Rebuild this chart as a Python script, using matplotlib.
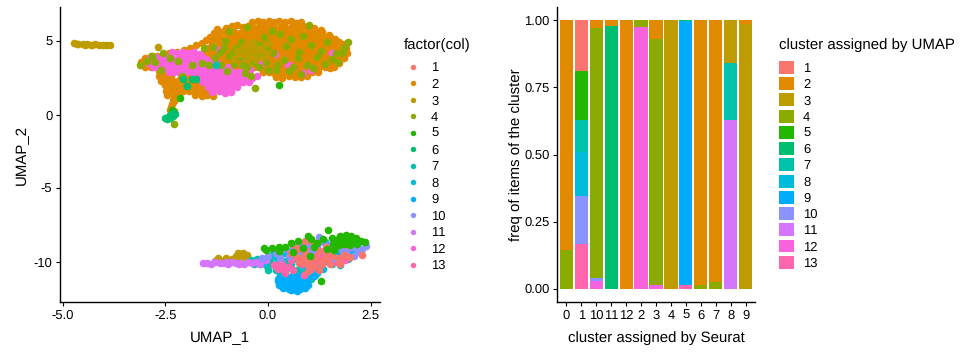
import matplotlib
matplotlib.use("Agg")
import matplotlib.pyplot as plt
from matplotlib.lines import Line2D
from matplotlib.patches import Patch
import numpy as np

plt.rcParams['font.family'] = ['Liberation Sans', 'DejaVu Sans']
plt.rcParams['axes.unicode_minus'] = False
plt.rcParams['text.hinting'] = 'no_hinting'
plt.rcParams['text.hinting_factor'] = 1

###########
# points, one list per cluster (x, y)

umap_2 = [
    (-.38,6.25),(-.25,6.32),(-.12,6.28),(.02,6.38),(.15,6.3),(.28,6.36),(.42,6.27),(.55,6.33),(.68,6.24),(.8,6.27),
    (-1.02,5.9),(-.88,5.98),(-.75,6.05),(-.62,5.92),(-.48,5.98),(-.35,5.9),(-.22,5.97),(-.08,5.92),(.05,5.98),
    (.18,5.9),(.32,5.96),(.45,5.91),(.58,5.97),(.72,5.9),(.85,6.0),(.98,5.94),(1.12,5.85),(1.28,5.72),
    (-1.22,5.58),(-1.08,5.65),(-.95,5.56),(-.82,5.63),(-.68,5.57),(-.55,5.62),(-.42,5.55),(-.28,5.61),(-.15,5.57),
    (-.02,5.63),(.12,5.56),(.25,5.62),(.38,5.57),(.52,5.63),(.65,5.56),(.78,5.62),(.92,5.57),(1.05,5.6),(1.18,5.55),
    (1.32,5.58),(1.48,5.42),
    (-1.3,5.22),(-1.16,5.28),(-1.02,5.2),(-.88,5.26),(-.75,5.21),(-.62,5.27),(-.48,5.22),(-.35,5.28),(-.22,5.2),
    (-.08,5.26),(.05,5.21),(.18,5.27),(.32,5.22),(.45,5.28),(.58,5.2),(.72,5.26),(.85,5.21),(.98,5.27),(1.12,5.22),
    (1.25,5.28),(1.38,5.2),(1.52,5.25),(1.64,5.12),
    (-1.36,4.88),(-1.22,4.94),(-1.08,4.86),(-.95,4.92),(-.82,4.87),(-.68,4.93),(-.55,4.88),(-.42,4.94),(-.28,4.86),
    (-.15,4.92),(-.02,4.87),(.12,4.93),(.25,4.88),(.38,4.94),(.52,4.86),(.65,4.92),(.78,4.87),(.92,4.93),(1.05,4.88),
    (1.18,4.94),(1.32,4.86),(1.45,4.92),(1.58,4.87),(1.72,4.93),(1.86,4.78),
    (-1.46,4.55),(-1.32,4.6),(-1.18,4.53),(-1.05,4.59),(-.92,4.54),(-.78,4.6),(-.65,4.55),(-.52,4.61),(-.38,4.53),
    (-.25,4.59),(-.12,4.54),(.02,4.6),(.15,4.55),(.28,4.61),(.42,4.53),(.55,4.59),(.68,4.54),(.82,4.6),(.95,4.55),
    (1.08,4.61),(1.22,4.53),(1.35,4.59),(1.48,4.54),(1.62,4.6),(1.75,4.55),(1.9,4.5),
    (-1.56,4.22),(-1.42,4.27),(-1.28,4.2),(-1.15,4.26),(-1.02,4.21),(-.88,4.27),(-.75,4.22),(-.62,4.28),(-.48,4.2),
    (-.35,4.26),(-.22,4.21),(-.08,4.27),(.05,4.22),(.18,4.28),(.32,4.2),(.45,4.26),(.58,4.21),(.72,4.27),(.85,4.22),
    (.98,4.28),(1.12,4.2),(1.25,4.26),(1.38,4.21),(1.52,4.27),(1.65,4.22),(1.78,4.28),(1.92,4.2),
    (-1.48,3.88),(-1.35,3.93),(-1.22,3.87),(-1.08,3.92),(-.95,3.88),(-.82,3.94),(-.68,3.87),(-.55,3.93),(-.42,3.88),
    (-.28,3.94),(-.15,3.86),(-.02,3.92),(.12,3.87),(.25,3.93),(.38,3.88),(.52,3.94),(.65,3.86),(.78,3.92),(.92,3.87),
    (1.05,3.93),(1.18,3.88),(1.32,3.94),(1.45,3.86),(1.58,3.92),(1.72,3.87),(1.85,3.85),
    (-1.18,3.55),(-1.05,3.6),(-.92,3.53),(-.78,3.59),(-.65,3.54),(-.52,3.6),(-.38,3.55),(-.25,3.61),(-.12,3.53),
    (.02,3.59),(.15,3.54),(.28,3.6),(.42,3.55),(.55,3.61),(.68,3.53),(.82,3.59),(.95,3.54),(1.08,3.6),(1.22,3.55),
    (1.35,3.61),(1.48,3.53),(1.62,3.55),(1.74,3.5),
    (-.9,3.2),(-.76,3.26),(-.62,3.19),(-.48,3.25),(-.35,3.2),(-.22,3.26),(-.08,3.19),(.05,3.25),(.18,3.2),(.32,3.26),
    (.45,3.19),(.58,3.25),(.72,3.2),(.85,3.26),(.98,3.19),(1.12,3.25),(1.25,3.2),(1.38,3.22),(1.5,3.17),(1.6,3.24),
    (-.12,2.88),(.02,2.92),(.15,2.85),(.28,2.9),(.42,2.86),(.55,2.92),(.68,2.85),(.82,2.9),(.95,2.88),(1.08,2.92),(1.22,2.88),
    (.2,2.58),(.35,2.52),(.5,2.6),(.65,2.53),(.8,2.58),(.95,2.62),
    # top strip and left edge, under the pink
    (-3.1,3.55),(-3.0,3.85),(-2.85,3.95),(-2.7,3.98),(-2.55,4.02),(-2.42,4.15),(-2.22,4.28),(-2.05,4.4),(-1.9,4.55),
    (-1.75,4.72),(-1.62,4.85),(-1.52,5.05),(-1.42,5.3),(-1.32,5.55),(-1.25,5.8),(-3.0,3.2),(-2.85,3.25),
    # lower left blob and tail
    (-2.65,2.95),(-2.5,3.0),(-2.65,2.65),(-2.5,2.7),(-2.36,2.62),(-2.6,2.3),(-2.46,2.36),(-2.32,2.28),(-2.18,2.34),
    (-2.04,2.25),(-1.9,2.3),(-1.76,2.25),(-2.5,2.0),(-2.36,1.95),(-2.22,2.02),(-2.08,1.62),(-1.94,1.98),(-1.8,1.92),
    (-1.66,1.98),(-1.52,1.92),(-1.4,1.95),(-2.48,1.62),(-2.34,1.68),(-2.2,1.6),(-2.06,1.85),(-1.92,1.6),(-1.78,1.66),
    (-1.64,1.6),(-1.5,1.65),(-1.38,1.6),(-2.45,1.32),(-2.3,1.28),(-2.18,1.35),(-1.78,1.32),(-1.62,1.28),(-1.48,1.35),
    (-1.35,1.3),(-2.32,1.0),(-2.34,.75),(-2.36,.5),(-2.38,.3),(-2.28,.9),
    (-1.22,1.72),(-1.12,2.05),(-1.98,2.7),(-2.15,3.05),
]

umap_12 = [
    (-2.34,4.22),(-2.2,4.16),(-2.06,4.24),(-1.92,4.18),(-1.8,4.26),(-1.66,4.14),
    (-2.88,3.82),(-2.74,3.88),(-2.6,3.8),(-2.46,3.86),(-2.32,3.8),(-2.18,3.88),(-2.04,3.82),(-1.9,3.9),(-1.76,3.82),(-1.62,3.88),(-1.5,3.8),
    (-2.9,3.5),(-2.76,3.56),(-2.62,3.48),(-2.48,3.54),(-2.34,3.5),(-2.2,3.56),(-2.06,3.48),(-1.92,3.55),(-1.78,3.5),(-1.64,3.56),(-1.5,3.48),(-1.36,3.54),(-1.24,3.48),
    (-2.8,3.2),(-2.66,3.26),(-2.52,3.18),(-2.38,3.24),(-2.24,3.18),(-2.1,3.25),(-1.96,3.18),(-1.82,3.24),(-1.68,3.18),(-1.54,3.25),(-1.4,3.18),(-1.26,3.24),(-1.12,3.18),(-.98,3.25),
    (-2.42,2.88),(-2.28,2.92),(-2.14,2.85),(-2.0,2.92),(-1.86,2.86),(-1.72,2.92),(-1.58,2.85),(-1.44,2.9),(-1.3,2.85),(-1.16,2.92),(-1.02,2.86),(-.88,2.92),(-.74,2.86),(-.62,2.92),
    (-1.78,2.52),(-1.64,2.58),(-1.5,2.5),(-1.36,2.56),(-1.22,2.5),(-1.08,2.56),(-.94,2.5),(-.8,2.56),(-.66,2.5),(-.52,2.56),(-.38,2.52),(-.26,2.6),
    (-1.58,2.2),(-1.44,2.26),(-1.3,2.18),(-1.16,2.24),(-1.02,2.18),(-.88,2.24),(-.74,2.18),(-.6,2.24),(-.46,2.2),
    (-1.46,1.86),(-1.32,1.92),(-1.18,1.84),(-1.04,1.9),(-.9,1.84),(-.76,1.9),
    (-1.36,1.52),(-1.2,1.58),(-1.06,1.5),(-.9,1.55),
    # stray pink points in the orange part
    (-.45,3.0),(.55,3.3),(.18,4.1),(.85,2.85),(1.05,3.02),(-.2,3.45),(.48,3.4),(1.55,4.15),(-.6,3.9),(-1.2,4.4),
]

umap_4 = [
    (-3.12,3.4),(-2.95,3.65),(-2.82,4.0),(-2.55,4.18),(-2.4,3.82),(-2.2,3.62),(-2.62,3.05),(-2.75,3.6),(-2.1,2.65),(-1.85,3.35),(-1.62,3.5),
    (-1.45,3.4),(-1.3,3.82),(-1.18,4.25),(-1.35,4.6),(-1.55,4.55),(-1.05,5.0),(-1.08,4.55),(-.95,3.95),(-.82,3.45),(-.78,4.55),(-.68,3.9),
    (-.62,3.4),(-.55,2.8),(-.42,2.65),(-.5,3.2),(-.35,3.55),(-.22,3.2),(-.3,4.0),(-.15,4.0),(-.05,3.6),(-.02,4.55),(-.1,5.3),(.0,3.0),(.12,4.2),
    (.22,3.4),(.2,3.05),(.3,5.5),(.4,3.7),(.45,4.65),(.5,2.95),(.6,3.2),(.72,3.85),(.75,4.25),(.8,2.75),(.85,5.35),(.95,3.4),(1.05,4.7),(1.1,3.15),
    (1.2,3.9),(1.3,4.35),(1.38,3.45),(1.45,4.95),(1.55,3.8),(1.65,4.2),(1.7,3.55),(1.8,4.15),(1.85,4.55),(1.95,4.9),(1.0,6.05),(-.32,1.8),(-2.29,-.64),
    (-.95,5.68),(-.5,5.95),(.1,5.7),(.55,5.1),(-.65,4.95),(-.35,4.85),(-.85,4.25),(-.55,4.2),(-.2,4.75),(-1.15,3.35),(-1.0,2.95),(-2.28,.28),
    (-3.95,4.75),
]

umap_3 = [
    (-4.72,4.84),(-4.62,4.82),(-4.52,4.78),(-4.42,4.8),(-4.32,4.74),(-4.22,4.76),(-4.12,4.74),(-4.02,4.72),(-3.86,4.75),
    (-4.65,4.76),(-4.45,4.72),(-4.3,4.7),(-2.68,4.58),
    (-1.3,-9.9),(-1.22,-9.75),(-1.12,-9.9),(-1.02,-9.75),(-.88,-9.8),(-.78,-9.55),(-.72,-9.35),(-.6,-9.4),(-.5,-9.5),(-.68,-9.65),(-.55,-9.65),
    (-.75,4.35),(-.62,4.6),(-.48,4.42),(-.35,4.62),(-.58,4.05),(-.42,4.15),(-.25,4.3),(-.7,4.12),(-.15,4.5),(-.5,3.75),(-.3,3.78),(-.12,3.85),
    (-.82,3.8),(-.4,4.9),(-.02,4.15),(.0,4.85),
]

umap_5 = [
    (.27,2.0),(-2.15,1.13),(-2.34,.3),
    (1.46,-7.85),(1.76,-8.2),(1.9,-8.15),(2.02,-8.2),(2.14,-8.35),(1.7,-8.45),(1.84,-8.5),(1.98,-8.42),(2.12,-8.55),(2.26,-8.55),(2.36,-8.6),
    (1.58,-8.8),(1.72,-8.85),(1.86,-8.78),(2.0,-8.85),(2.16,-8.8),(1.05,-8.4),(.98,-8.25),(.72,-8.55),(.55,-8.7),(.42,-8.95),(.28,-9.25),(.1,-9.05),
    (-.1,-9.05),(-.05,-9.15),(.28,-8.95),(1.35,-8.45),(1.2,-8.7),(.85,-9.05),(1.45,-9.1),(1.55,-8.35),(1.12,-8.95),(1.62,-9.2),(1.3,-11.3),
    (.62,-9.3),(1.02,-9.6),
]

umap_6 = [
    (-2.52,-.2),(-2.45,-.28),(-2.42,-.1),(-2.38,-.22),(-2.36,.02),(-2.32,-.08),(-2.3,.1),(-2.26,.02),(-2.07,2.4),(-1.85,2.4),(-1.75,2.45),(-1.98,1.95),
]

umap_7 = [
    (-1.27,3.35),
    (-.42,-9.85),(-.28,-9.8),(-.12,-9.9),(.05,-9.75),(.25,-9.8),(.45,-9.9),(.7,-9.78),(.95,-9.9),(1.2,-9.8),(1.45,-9.9),(1.7,-9.82),(1.95,-9.78),
    (-.35,-10.15),(-.2,-10.1),(-.05,-10.2),(.1,-10.1),(.3,-10.2),(.55,-10.12),(.8,-10.22),(1.05,-10.15),(1.3,-10.2),(1.55,-10.12),(1.76,-10.2),
    (.1,-9.5),(.3,-9.58),(.55,-9.48),(.8,-9.55),(1.05,-9.5),(1.3,-9.58),(1.55,-9.48),(1.8,-9.55),(2.05,-9.5),
    (.45,-9.2),(.7,-9.15),(.95,-9.22),(1.2,-9.15),(1.45,-9.25),(1.7,-9.18),(1.95,-9.22),(2.2,-9.2),
    (.0,-10.5),(.2,-10.55),(.45,-10.48),(.7,-10.55),(.95,-10.48),(1.2,-10.52),
    (.3,-10.85),(.6,-10.9),(.9,-10.82),(1.15,-10.9),(.25,-11.15),(1.05,-11.15),(.42,-10.7),(.78,-10.72),
]

umap_8 = [
    (.2,-9.65),(.65,-9.7),(1.1,-9.3),(1.55,-9.65),(2.1,-9.4),(1.3,-9.95),(.35,-10.0),(.85,-10.35),(1.35,-10.45),(1.7,-10.0),
    (.95,-8.85),(1.75,-8.95),(1.4,-8.65),(.4,-9.35),(-.1,-10.05),(2.25,-9.3),(1.02,-10.7),(1.2,-10.75),
]

umap_9 = [
    (.25,-11.25),(.38,-11.2),(.52,-11.15),(.66,-11.2),(.8,-11.15),(.94,-11.2),
    (.28,-11.52),(.42,-11.56),(.56,-11.5),(.7,-11.55),(.84,-11.5),(.98,-11.52),
    (.36,-11.75),(.5,-11.8),(.64,-11.85),(.78,-11.8),(.9,-11.72),
    (.3,-10.98),(.45,-10.95),(.6,-11.0),(.75,-10.95),(1.12,-10.95),(.55,-11.9),(.7,-11.95),
    (1.38,-9.3),(1.9,-8.95),(1.65,-9.5),
]

umap_10 = [
    (-.15,-9.7),(.0,-9.6),(.2,-9.35),(.42,-9.1),(.6,-8.95),(.8,-8.8),(1.0,-8.75),(1.2,-8.95),(1.35,-8.6),(1.5,-8.85),(1.85,-8.65),(1.65,-8.55),
    (2.05,-8.95),(2.3,-9.1),(2.38,-8.9),(2.2,-9.25),(1.05,-8.6),(.72,-9.35),(1.1,-9.15),(1.55,-9.25),(1.8,-9.15),(2.0,-8.7),(.3,-9.75),(1.9,-9.3),
    (2.1,-9.55),(1.25,-8.3),(.5,-9.6),(1.6,-9.7),(.95,-9.4),
]

umap_11 = [
    (-1.58,-10.08),(-1.48,-10.05),(-1.38,-10.1),(-1.28,-10.02),(-1.18,-10.08),(-1.08,-10.05),(-.98,-10.1),(-.88,-10.02),(-.78,-10.08),(-.68,-10.05),
    (-.58,-10.1),(-.48,-10.02),(-.4,-10.08),(-.3,-10.0),(-.2,-10.1),(-.05,-9.85),(-1.0,-10.0),(-.7,-10.12),
]

umap_1 = [
    (.7,-9.65),(.85,-9.8),(1.0,-9.95),(1.15,-9.75),(1.28,-9.95),(1.42,-9.7),(1.58,-9.55),(1.72,-9.7),(.95,-10.1),(1.12,-10.25),(1.25,-10.55),
    (.9,-9.4),(1.25,-9.25),(.72,-9.1),(1.45,-9.45),(1.6,-8.95),(.55,-9.35),(1.42,-8.95),(1.75,-10.15),(2.0,-9.65),(1.08,-8.55),(.62,-8.75),
    (1.85,-9.5),(1.32,-10.15),(1.52,-10.1),(.75,-10.05),(2.28,-9.5),(.9,-8.55),(.98,-10.6),
]

umap_13 = [
    (.35,-10.15),(.5,-10.3),(.4,-10.55),(.62,-10.55),(.3,-9.95),(.55,-9.85),(.42,-10.75),(.82,-10.15),(.7,-9.55),(.95,-9.65),(1.12,-9.4),(1.3,-9.6),
    (1.18,-10.0),(1.48,-9.95),(1.65,-10.0),(1.05,-10.45),(.88,-10.85),(.15,-10.2),(.6,-9.2),(1.4,-9.2),(1.02,-9.05),(1.88,-9.82),(1.95,-9.05),(.25,-10.45),
]

umap_points = [umap_1, umap_2, umap_3, umap_4, umap_5, umap_6, umap_7,
               umap_8, umap_9, umap_10, umap_11, umap_12, umap_13]
# same overplotting as the picture, 2 at the bottom, reds and greens on top
draw_order = [2, 12, 4, 3, 7, 8, 9, 11, 13, 10, 1, 5, 6]

cluster_colors = ["#F8766D", "#E18A00", "#BE9C00", "#8CAB00", "#24B700",
                  "#00BE70", "#00C1AB", "#00BBDA", "#00ACFC", "#8B93FF",
                  "#D575FE", "#F962DD", "#FF65AC"]
cluster_labels = ["1", "2", "3", "4", "5", "6", "7", "8", "9", "10", "11", "12", "13"]

# stacked bars, one list per UMAP cluster over the Seurat clusters
seurat_labels = ["0", "1", "10", "11", "12", "2", "3", "4", "5", "6", "7", "8", "9"]
freq_1 = [0, .19, 0, 0, 0, 0, 0, 0, 0, 0, 0, 0, 0]
freq_2 = [.855, 0, .029, .019, 1, 0, .071, 0, 0, .988, .975, 0, .013]
freq_3 = [0, 0, 0, 0, 0, 0, 0, 1, 0, 0, 0, .158, .987]
freq_4 = [.145, 0, .932, 0, 0, .026, .914, 0, 0, .012, .025, 0, 0]
freq_5 = [0, .182, 0, 0, 0, 0, 0, 0, 0, 0, 0, 0, 0]
freq_6 = [0, 0, 0, .981, 0, 0, 0, 0, .003, 0, 0, 0, 0]
freq_7 = [0, .117, 0, 0, 0, 0, 0, 0, 0, 0, 0, .212, 0]
freq_8 = [0, .165, 0, 0, 0, 0, 0, 0, 0, 0, 0, 0, 0]
freq_9 = [0, 0, 0, 0, 0, 0, 0, 0, .985, 0, 0, 0, 0]
freq_10 = [0, .178, .009, 0, 0, 0, 0, 0, 0, 0, 0, 0, 0]
freq_11 = [0, 0, 0, 0, 0, 0, 0, 0, 0, 0, 0, .63, 0]
freq_12 = [0, 0, .03, 0, 0, .974, .015, 0, 0, 0, 0, 0, 0]
freq_13 = [0, .168, 0, 0, 0, 0, 0, 0, .012, 0, 0, 0, 0]
freqs = [freq_1, freq_2, freq_3, freq_4, freq_5, freq_6, freq_7,
         freq_8, freq_9, freq_10, freq_11, freq_12, freq_13]


def style_axes(ax):
    ax.spines["top"].set_visible(False)
    ax.spines["right"].set_visible(False)
    ax.spines["left"].set_linewidth(1.0)
    ax.spines["bottom"].set_linewidth(1.0)
    ax.tick_params(length=3, width=0.8, labelsize=9.5, pad=2.5)


W, H = 980, 356
fig = plt.figure(figsize=(W / 100, H / 100), dpi=100)
ax_umap = fig.add_axes([60 / W, (H - 302) / H, 320 / W, 295 / H])
ax_bar = fig.add_axes([557 / W, (H - 302) / H, 198 / W, 295 / H])

# UMAP panel
for c in draw_order:
    pts = np.array(umap_points[c - 1])
    ax_umap.scatter(pts[:, 0], pts[:, 1], s=30, color=cluster_colors[c - 1], linewidths=0)
ax_umap.set_xlim(-5.07, 2.73)
ax_umap.set_ylim(-12.7, 7.3)
ax_umap.set_xticks([-5, -2.5, 0, 2.5])
ax_umap.set_xticklabels(["-5.0", "-2.5", "0.0", "2.5"])
ax_umap.set_yticks([-10, -5, 0, 5])
ax_umap.set_xlabel("UMAP_1", fontsize=11, labelpad=7)
ax_umap.set_ylabel("UMAP_2", fontsize=11, labelpad=3)
style_axes(ax_umap)

handles = [Line2D([], [], linestyle="", marker="o", markersize=3.9, markeredgewidth=0,
                  color=col, label=lab) for col, lab in zip(cluster_colors, cluster_labels)]
ax_umap.legend(handles=handles, frameon=False, fontsize=9.5, loc="upper left",
               bbox_to_anchor=(406 / W, (H - 62) / H), bbox_transform=fig.transFigure,
               borderaxespad=0, borderpad=0, handlelength=1.0, handletextpad=0.9,
               labelspacing=0.33)
fig.text(404 / W, (H - 45) / H, "factor(col)", fontsize=11, va="center")

# bar panel
xpos = np.arange(len(seurat_labels))
top = np.ones(len(seurat_labels))
for i, f in enumerate(freqs):
    f = np.array(f)
    ax_bar.bar(xpos, f, bottom=top - f, width=0.88, color=cluster_colors[i], linewidth=0)
    top = top - f
ax_bar.set_xlim(-0.62, 12.62)
ax_bar.set_ylim(-0.05, 1.05)
ax_bar.set_xticks(xpos)
ax_bar.set_xticklabels(seurat_labels)
ax_bar.set_yticks([0, 0.25, 0.5, 0.75, 1])
ax_bar.set_yticklabels(["0.00", "0.25", "0.50", "0.75", "1.00"])
ax_bar.set_xlabel("cluster assigned by Seurat", fontsize=11, labelpad=7)
ax_bar.set_ylabel("freq of items of the cluster", fontsize=11, labelpad=1)
style_axes(ax_bar)

patches = [Patch(facecolor=col, edgecolor="none", label=lab)
           for col, lab in zip(cluster_colors, cluster_labels)]
ax_bar.legend(handles=patches, frameon=False, fontsize=9.5, loc="upper left",
              bbox_to_anchor=(779 / W, (H - 61) / H), bbox_transform=fig.transFigure,
              borderaxespad=0, borderpad=0, handlelength=1.12, handleheight=1.12,
              handletextpad=0.7, labelspacing=0.2)
fig.text(779 / W, (H - 45) / H, "cluster assigned by UMAP", fontsize=11, va="center")

fig.savefig("out.png", dpi=100)
